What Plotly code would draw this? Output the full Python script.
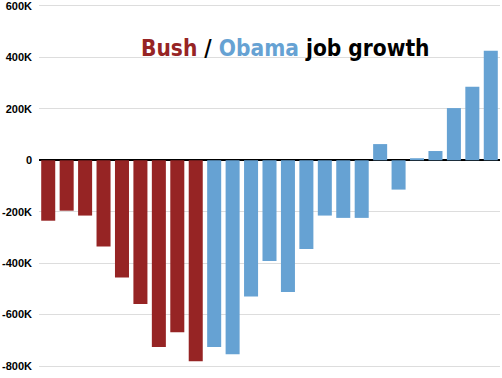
import plotly.graph_objects as go

months = ["May 08", "Jun 08", "Jul 08", "Aug 08", "Sep 08", "Oct 08", "Nov 08", "Dec 08", "Jan 09",
          "Feb 09", "Mar 09", "Apr 09", "May 09", "Jun 09", "Jul 09", "Aug 09", "Sep 09", "Oct 09",
          "Nov 09", "Dec 09", "Jan 10", "Feb 10", "Mar 10", "Apr 10", "May 10"]
jobs_k = [-235, -196, -215, -335, -456, -559, -726, -669, -782,
          -726, -754, -530, -392, -512, -345, -215, -224, -224,
          63, -114, 8, 36, 203, 286, 426]
president = ["Bush"] * 9 + ["Obama"] * 16

tick_vals = [600, 400, 200, 0, -200, -400, -600, -800]
tick_text = ["600K", "400K", "200K", "0", "-200K", "-400K", "-600K", "-800K"]

RED = "#962424"
BLUE = "#66a2d3"
colors = [RED if p == "Bush" else BLUE for p in president]

fig = go.Figure(go.Bar(x=months, y=jobs_k, marker=dict(color=colors, line=dict(width=0)),
                       hoverinfo="x+y"))

fig.update_layout(
    template="none",
    width=502, height=378,
    margin=dict(l=39, r=2, t=6, b=12, autoexpand=False),
    paper_bgcolor="white", plot_bgcolor="white",
    bargap=0.24,
    showlegend=False,
    xaxis=dict(visible=True, showticklabels=False, ticks="", showgrid=False, automargin=False,
               range=[-0.5, len(months) - 0.5],
               zeroline=False, showline=True, linecolor="#dddddd", linewidth=1, mirror=True),
    yaxis=dict(range=[-800, 600], tickvals=tick_vals, ticktext=tick_text, automargin=False,
               showgrid=True, gridcolor="#dddddd", gridwidth=1,
               zeroline=True, zerolinecolor="black", zerolinewidth=2,
               showline=False, ticks="", ticklabeloverflow="allow",
               tickfont=dict(family="Liberation Sans", size=11, color="black", weight="bold"),
               ticklabelstandoff=6),
    annotations=[dict(
        xref="paper", yref="paper", x=0.534, y=0.883, xanchor="center", yanchor="middle",
        showarrow=False,
        text=("<b><span style='color:%s'>Bush</span> / "
              "<span style='color:%s'>Obama</span> job growth</b>") % (RED, BLUE),
        font=dict(family="DejaVu Sans Condensed", size=22.5, color="black"))],
)

fig.write_html("out.html", config={"displayModeBar": False},
               post_script="document.body.style.margin='0';")
